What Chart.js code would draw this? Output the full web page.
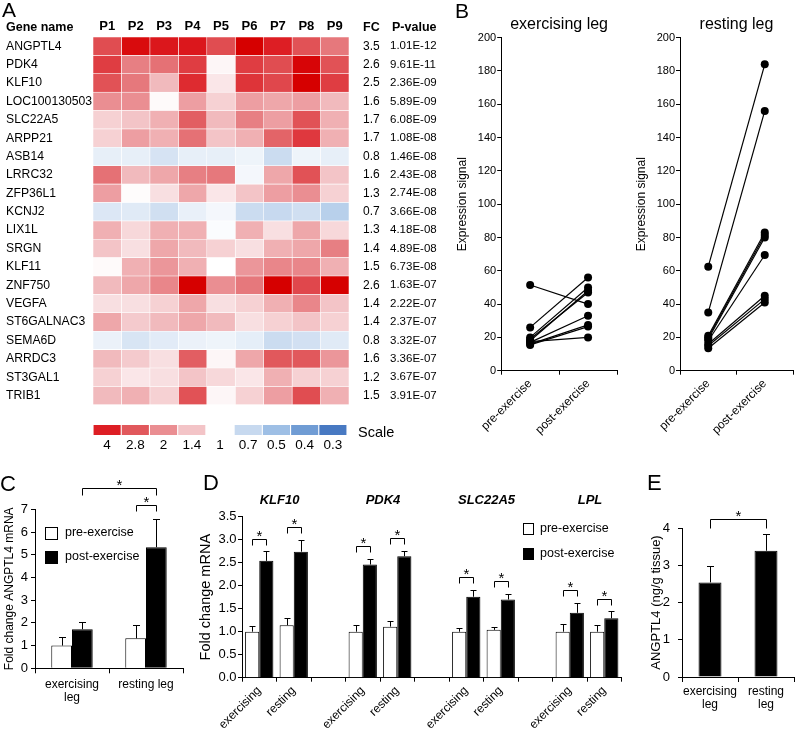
<!DOCTYPE html>
<html><head><meta charset="utf-8">
<script src="https://cdn.jsdelivr.net/npm/chart.js@4.4.1/dist/chart.umd.min.js"></script>
<style>
body{margin:0;background:#fff;}
#wrap{position:relative;width:797px;height:730px;overflow:hidden;background:#fff;font-family:"Liberation Sans",Arial,sans-serif;color:#000;}
canvas{position:absolute;}
.t{position:absolute;white-space:nowrap;}
.L{font-size:21px;line-height:21px;}
.H{font-size:12.5px;line-height:15px;font-weight:bold;}
</style></head><body><div id="wrap">
<canvas id="heat" width="445" height="426" style="left:0;top:0"></canvas>
<canvas id="scaleBar" width="400" height="40" style="left:0;top:418px"></canvas>
<canvas id="legEx" width="182" height="432" style="left:440px;top:8px"></canvas>
<canvas id="legRest" width="175" height="432" style="left:622px;top:8px"></canvas>
<canvas id="chartC" width="200" height="240" style="left:0;top:470px"></canvas>
<canvas id="chartD" width="440" height="260" style="left:190px;top:470px"></canvas>
<canvas id="chartE" width="167" height="260" style="left:630px;top:470px"></canvas>
<div class="t L" style="left:2px;top:-1px">A</div>
<div class="t L" style="left:455px;top:-0.5px">B</div>
<div class="t L" style="left:0px;top:473px;font-size:22px;line-height:22px">C</div>
<div class="t L" style="left:203px;top:472px;font-size:22px;line-height:22px">D</div>
<div class="t L" style="left:647px;top:472px;font-size:22px;line-height:22px">E</div>
<div class="t H" style="left:6px;top:19.5px">Gene name</div>
<div class="t H" style="left:363px;top:19.5px">FC</div>
<div class="t H" style="left:392px;top:19.5px">P-value</div>
<div class="t" style="left:358px;top:423.5px;font-size:14.5px;line-height:17px">Scale</div>
</div>
<script>
// ---------------- DATA ----------------
const patients = ['P1','P2','P3','P4','P5','P6','P7','P8','P9'];
const genes = ['ANGPTL4','PDK4','KLF10','LOC100130503','SLC22A5','ARPP21','ASB14','LRRC32','ZFP36L1','KCNJ2','LIX1L','SRGN','KLF11','ZNF750','VEGFA','ST6GALNAC3','SEMA6D','ARRDC3','ST3GAL1','TRIB1'];
const foldChange = ['3.5','2.6','2.5','1.6','1.7','1.7','0.8','1.6','1.3','0.7','1.3','1.4','1.5','2.6','1.4','1.4','0.8','1.6','1.2','1.5'];
const pValues = ['1.01E-12','9.61E-11','2.36E-09','5.89E-09','6.08E-09','1.08E-08','1.46E-08','2.43E-08','2.74E-08','3.66E-08','4.18E-08','4.89E-08','6.73E-08','1.63E-07','2.22E-07','2.37E-07','3.32E-07','3.36E-07','3.67E-07','3.91E-07'];
// per-gene fold change per patient (P1..P9)
const rANGPTL4    = [3.0, 4.6, 4.2, 4.2, 3.0, 5.0, 4.0, 2.9, 2.3];
const rPDK4       = [3.3, 2.2, 2.4, 3.3, 1.05, 3.3, 3.0, 4.8, 2.9];
const rKLF10      = [2.9, 2.3, 1.5, 3.7, 1.15, 3.5, 3.1, 5.0, 3.3];
const rLOC        = [2.0, 2.0, 1.03, 1.8, 1.3, 1.8, 1.7, 1.8, 1.5];
const rSLC22A5    = [1.3, 1.4, 1.6, 2.7, 1.5, 2.2, 1.8, 2.9, 1.6];
const rARPP21     = [1.3, 1.8, 1.6, 2.4, 1.4, 1.6, 2.6, 3.4, 1.6];
const rASB14      = [0.86, 0.86, 0.77, 0.86, 0.86, 0.9, 0.72, 0.9, 0.86];
const rLRRC32     = [2.4, 1.5, 1.7, 2.2, 2.3, 0.93, 1.7, 2.9, 1.4];
const rZFP36L1    = [1.8, 1.02, 1.2, 1.7, 1.15, 1.4, 1.8, 2.0, 1.3];
const rKCNJ2      = [0.8, 0.82, 0.74, 0.87, 0.93, 0.72, 0.7, 0.74, 0.62];
const rLIX1L      = [1.6, 1.25, 1.6, 1.6, 0.97, 1.6, 1.2, 1.7, 1.25];
const rSRGN       = [1.4, 1.2, 1.7, 1.5, 1.3, 1.2, 1.6, 1.7, 2.2];
const rKLF11      = [1.03, 1.6, 1.9, 1.6, 1.0, 1.9, 2.1, 2.1, 1.6];
const rZNF750     = [1.5, 1.7, 2.1, 5.0, 2.0, 2.3, 5.0, 3.1, 5.0];
const rVEGFA      = [1.2, 1.2, 1.3, 1.7, 1.2, 1.3, 1.6, 2.1, 1.4];
const rST6GALNAC3 = [1.7, 1.35, 1.5, 1.7, 1.5, 1.2, 1.3, 1.4, 1.3];
const rSEMA6D     = [0.88, 0.78, 0.83, 0.88, 0.9, 0.85, 0.72, 0.75, 0.82];
const rARRDC3     = [1.5, 1.35, 1.2, 2.7, 1.05, 1.7, 2.8, 2.8, 1.9];
const rST3GAL1    = [1.3, 1.15, 1.2, 1.4, 1.25, 1.15, 1.6, 1.3, 1.3];
const rTRIB1      = [1.5, 1.6, 1.3, 2.9, 1.05, 1.3, 1.8, 3.0, 1.6];
const heatRows = [rANGPTL4,rPDK4,rKLF10,rLOC,rSLC22A5,rARPP21,rASB14,rLRRC32,rZFP36L1,rKCNJ2,rLIX1L,rSRGN,rKLF11,rZNF750,rVEGFA,rST6GALNAC3,rSEMA6D,rARRDC3,rST3GAL1,rTRIB1];
const scaleValues = [4, 2.8, 2, 1.4, 1, 0.7, 0.5, 0.4, 0.3];
const scaleLabels = ['4','2.8','2','1.4','1','0.7','0.5','0.4','0.3'];

// Panel B
const legCats = ['pre-exercise','post-exercise'];
const exPre    = [51.5, 26, 20, 19, 18, 17, 16, 15.5, 17.5];
const exPost   = [40, 56, 50, 47, 48, 33, 27.5, 26.5, 20];
const restPre  = [62.5, 35, 21, 20, 19, 18, 16, 15, 13.5];
const restPost = [184, 156, 83, 81.5, 80, 69.5, 45, 43, 41];

// Panel C
const cCats = [['exercising','leg'], 'resting leg'];
const cPre = [1.0, 1.32];
const cPreSD = [0.38, 0.6];
const cPost = [1.72, 5.33];
const cPostSD = [0.32, 1.23];
const cSig = [{a:[1,0], b:[1,1]}, {a:[0,1], b:[1,1]}];

// Panel D
const dGenes = ['KLF10','PDK4','SLC22A5','LPL'];
const dCats = ['exercising','resting','','exercising','resting','','exercising','resting','','exercising','resting'];
const dPre    = [1.00, 1.14, null, 1.00, 1.11, null, 1.00, 1.04, null, 1.00, 1.00];
const dPreSD  = [0.12, 0.16, null, 0.14, 0.13, null, 0.09, 0.07, null, 0.16, 0.15];
const dPost   = [2.54, 2.74, null, 2.46, 2.64, null, 1.76, 1.70, null, 1.41, 1.29];
const dPostSD = [0.21, 0.26, null, 0.13, 0.12, null, 0.15, 0.12, null, 0.22, 0.16];
const dSigIdx = [0, 1, 3, 4, 6, 7, 9, 10];

// Panel E
const eCats = [['exercising','leg'], ['resting','leg']];
const eVals = [2.54, 3.39];
const eSD = [0.45, 0.44];
const eSig = [{a:[0,0], b:[0,1]}];

// ---------------- STYLE / HELPERS ----------------
const FONT = '"Liberation Sans", Arial, sans-serif';
Chart.defaults.font.family = FONT;
Chart.defaults.font.size = 12;
Chart.defaults.color = '#000';
Chart.defaults.animation = false;
Chart.defaults.responsive = false;
Chart.defaults.devicePixelRatio = 1;
Chart.defaults.plugins.legend.display = false;
Chart.defaults.plugins.tooltip.enabled = false;

const STOPS = [[5.0,[214,0,0]],[4.0,[221,30,36]],[2.8,[225,88,92]],[2.0,[234,142,146]],[1.4,[243,196,199]],[1.0,[255,255,255]],[0.7,[199,217,239]],[0.5,[158,191,229]],[0.4,[112,156,212]],[0.3,[72,121,194]]];
function heatColor(v){
  const c = (a)=>'rgb('+a.map(Math.round).join(',')+')';
  if (v >= STOPS[0][0]) return c(STOPS[0][1]);
  if (v <= STOPS[STOPS.length-1][0]) return c(STOPS[STOPS.length-1][1]);
  for (let i=0;i<STOPS.length-1;i++){
    const [a,ca] = STOPS[i], [b,cb] = STOPS[i+1];
    if (v <= a && v >= b){
      const t = (Math.log(a)-Math.log(v))/(Math.log(a)-Math.log(b));
      return c(ca.map((x,k)=>x+(cb[k]-x)*t));
    }
  }
  return '#fff';
}

const errorBars = {
  id:'errorBars',
  afterDatasetsDraw(chart, args, o){
    const ctx = chart.ctx, y = chart.scales.y, cap = (o && o.cap) || 7;
    chart.data.datasets.forEach((ds,di)=>{
      if (!ds.sd) return;
      const meta = chart.getDatasetMeta(di);
      meta.data.forEach((bar,i)=>{
        const v = ds.data[i], s = ds.sd[i];
        if (v == null || s == null) return;
        const top = Math.round(y.getPixelForValue(v+s)) + 0.5;
        const x = Math.round(bar.x) + 0.5;
        ctx.save(); ctx.strokeStyle = '#000'; ctx.lineWidth = 1;
        ctx.beginPath(); ctx.moveTo(x, bar.y); ctx.lineTo(x, top);
        ctx.moveTo(x - cap/2, top); ctx.lineTo(x + cap/2, top); ctx.stroke(); ctx.restore();
      });
    });
  }
};

const sigBrackets = {
  id:'sigBrackets',
  afterDatasetsDraw(chart, args, o){
    if (!o || !o.pairs) return;
    const ctx = chart.ctx, y = chart.scales.y;
    const n = o.pairs.length;
    for (let k=0;k<n;k++){
      const p = o.pairs[k];
      const ds1 = chart.data.datasets[p.a[0]], ds2 = chart.data.datasets[p.b[0]];
      const b1 = chart.getDatasetMeta(p.a[0]).data[p.a[1]], b2 = chart.getDatasetMeta(p.b[0]).data[p.b[1]];
      const t1 = y.getPixelForValue(ds1.data[p.a[1]] + (ds1.sd ? ds1.sd[p.a[1]] : 0));
      const t2 = y.getPixelForValue(ds2.data[p.b[1]] + (ds2.sd ? ds2.sd[p.b[1]] : 0));
      const gap = o.gaps ? o.gaps[k] : o.gap;
      const leg = o.legs ? o.legs[k] : o.leg;
      const by = Math.round(Math.min(t1,t2) - gap) + 0.5;
      const x1 = Math.round(b1.x) + 0.5, x2 = Math.round(b2.x) + 0.5;
      ctx.save(); ctx.strokeStyle = '#000'; ctx.lineWidth = 1;
      ctx.beginPath(); ctx.moveTo(x1, by+leg); ctx.lineTo(x1, by); ctx.lineTo(x2, by); ctx.lineTo(x2, by+leg); ctx.stroke();
      ctx.fillStyle = '#000'; ctx.font = (o.starSize||15)+'px '+FONT; ctx.textAlign = 'center'; ctx.textBaseline = 'alphabetic';
      ctx.fillText('*', (x1+x2)/2, by + (o.starDy||1.5));
      ctx.restore();
    }
  }
};

const boxLegend = {
  id:'boxLegend',
  afterDraw(chart, args, o){
    if (!o || o.x === undefined) return;
    const ctx = chart.ctx, ca = chart.chartArea;
    chart.data.datasets.forEach((ds,k)=>{
      const x = Math.round(ca.left + o.x), cy = ca.top + o.y + k*o.spacing;
      const yTop = Math.round(cy - o.boxH/2);
      ctx.save();
      ctx.fillStyle = ds.backgroundColor; ctx.fillRect(x, yTop, o.boxW, o.boxH);
      ctx.strokeStyle = '#000'; ctx.lineWidth = 1; ctx.strokeRect(x+0.5, yTop+0.5, o.boxW-1, o.boxH-1);
      ctx.fillStyle = '#000'; ctx.font = o.fontSize+'px '+FONT; ctx.textAlign = 'left'; ctx.textBaseline = 'middle';
      ctx.fillText(ds.label, x + o.boxW + o.textGap, cy);
      ctx.restore();
    });
  }
};

const groupTitles = {
  id:'groupTitles',
  afterDraw(chart, args, o){
    if (!o || !o.names) return;
    const ctx = chart.ctx, xs = chart.scales.x;
    ctx.save(); ctx.font = 'italic bold 13px '+FONT; ctx.textAlign = 'center'; ctx.textBaseline = 'middle'; ctx.fillStyle = '#000';
    o.names.forEach((name,g)=>{
      const x = (xs.getPixelForValue(g*o.every) + xs.getPixelForValue(g*o.every+1))/2 + (o.dx||0);
      ctx.fillText(name, x, chart.chartArea.top + o.dy);
    });
    ctx.restore();
  }
};

const axisBlack = {display:true, color:'#000', width:1};
function noGrid(){ return {display:false, drawTicks:false}; }

// ---------------- A: heatmap ----------------
new Chart(document.getElementById('heat'), {
  type:'bar',
  data:{
    labels: genes,
    datasets: patients.map((p,j)=>({
      label:p,
      data: genes.map(()=>1),
      backgroundColor: heatRows.map(r=>heatColor(r[j])),
      borderColor:'#fff', borderWidth:0.6, borderSkipped:false,
      barPercentage:1, categoryPercentage:1
    }))
  },
  options:{
    indexAxis:'y',
    layout:{padding:{left:6,right:0,top:0,bottom:11.5}},
    scales:{
      x:{stacked:true, min:0, max:9, display:false},
      y:{stacked:true, position:'left', grid:noGrid(), border:{display:false},
         ticks:{crossAlign:'far', font:{size:12.2}, padding:0, autoSkip:false},
         afterFit(s){ s.width = 87; }},
      pHead:{type:'category', axis:'x', labels:patients, position:'top', offset:true, grid:noGrid(), border:{display:false},
         ticks:{font:{size:13, weight:'bold'}, padding:2.5, autoSkip:false, maxRotation:0},
         afterFit(s){ s.height = 37; }},
      fc:{type:'category', axis:'y', labels:foldChange, position:'right', offset:true, grid:noGrid(), border:{display:false},
         ticks:{crossAlign:'near', font:{size:12}, padding:14, autoSkip:false},
         afterFit(s){ s.width = 32; }},
      pv:{type:'category', axis:'y', labels:pValues, position:'right', offset:true, grid:noGrid(), border:{display:false},
         ticks:{crossAlign:'near', font:{size:11.5}, padding:9, autoSkip:false},
         afterFit(s){ s.width = 64; }}
    }
  }
});

// scale bar
new Chart(document.getElementById('scaleBar'), {
  type:'bar',
  data:{labels: scaleLabels, datasets:[{data: scaleValues.map(()=>1), backgroundColor: scaleValues.map(heatColor), borderWidth:0, barPercentage:1, categoryPercentage:0.96}]},
  options:{
    layout:{padding:{left:93,right:53,top:7,bottom:0}},
    scales:{
      y:{display:false, min:0, max:1},
      x:{grid:noGrid(), border:{display:false}, ticks:{font:{size:13.5}, padding:2, autoSkip:false, maxRotation:0},
         afterFit(s){ s.height = 23; }}
    }
  }
});

// ---------------- B: paired lines ----------------
function legChart(id, title, pre, post, padLeft, padRight){
  new Chart(document.getElementById(id), {
    type:'line',
    data:{
      labels: legCats,
      datasets: pre.map((v,i)=>({
        data:[v, post[i]], borderColor:'#000', backgroundColor:'#000', borderWidth:1.2,
        pointRadius:4, pointBackgroundColor:'#000', pointBorderWidth:0, tension:0
      }))
    },
    options:{
      layout:{padding:{left:padLeft, right:padRight, top:7.4, bottom:0}},
      plugins:{title:{display:true, text:title, fullSize:false, color:'#000', font:{size:16, weight:'normal'}, padding:{top:0,bottom:3.1}}},
      scales:{
        x:{type:'category', offset:true,
           grid:{display:true, offset:true, drawOnChartArea:false, drawTicks:true, tickLength:4, color:'#000'},
           border:axisBlack,
           ticks:{minRotation:45, maxRotation:45, font:{size:12}, padding:2, autoSkip:false},
           afterFit(s){ s.height = 69.3; }},
        y:{min:0, max:200,
           ticks:{stepSize:20, font:{size:11}, padding:1},
           grid:{display:true, drawOnChartArea:false, drawTicks:true, tickLength:4, color:'#000'},
           border:axisBlack,
           title:{display:true, text:'Expression signal', font:{size:12}, padding:{top:1,bottom:0}},
           afterFit(s){ s.width = 46.4; }}
      }
    }
  });
}
legChart('legEx', 'exercising leg', exPre, exPost, 14.8, 5);
legChart('legRest', 'resting leg', restPre, restPost, 11.6, 1);

// ---------------- C ----------------
new Chart(document.getElementById('chartC'), {
  type:'bar',
  data:{labels:cCats, datasets:[
    {label:'pre-exercise', data:cPre, sd:cPreSD, backgroundColor:'#fff', borderColor:'#000', borderWidth:1},
    {label:'post-exercise', data:cPost, sd:cPostSD, backgroundColor:'#000', borderColor:'#000', borderWidth:1}
  ]},
  options:{
    datasets:{bar:{categoryPercentage:0.56, barPercentage:1}},
    layout:{padding:{left:0,right:17,top:39.3,bottom:0}},
    scales:{
      x:{grid:{display:true, offset:true, drawOnChartArea:false, drawTicks:true, tickLength:5, color:'#000'}, border:axisBlack,
         ticks:{font:{size:12, lineHeight:1.05}, padding:5.4, autoSkip:false, maxRotation:0},
         afterFit(s){ s.height = 41.7; }},
      y:{min:0, max:7, ticks:{stepSize:1, font:{size:13}, padding:3},
         grid:{display:true, drawOnChartArea:false, drawTicks:true, tickLength:4, color:'#000'}, border:axisBlack,
         title:{display:true, text:'Fold change ANGPTL4 mRNA', font:{size:12}, padding:{top:2.8,bottom:0}},
         afterFit(s){ s.width = 35; }}
    },
    plugins:{
      errorBars:{cap:7},
      sigBrackets:{pairs:cSig, gaps:[31,14], legs:[7,6], starSize:15, starDy:1.5},
      boxLegend:{x:10, y:23.7, spacing:24, boxW:13, boxH:13, textGap:7, fontSize:12.5}
    }
  },
  plugins:[errorBars, sigBrackets, boxLegend]
});

// ---------------- D ----------------
new Chart(document.getElementById('chartD'), {
  type:'bar',
  data:{labels:dCats, datasets:[
    {label:'pre-exercise', data:dPre, sd:dPreSD, backgroundColor:'#fff', borderColor:'#000', borderWidth:1},
    {label:'post-exercise', data:dPost, sd:dPostSD, backgroundColor:'#000', borderColor:'#000', borderWidth:1}
  ]},
  options:{
    datasets:{bar:{categoryPercentage:0.82, barPercentage:1}},
    layout:{padding:{left:7.3,right:8.5,top:46.7,bottom:0}},
    scales:{
      x:{grid:{display:true, offset:true, drawOnChartArea:false, drawTicks:true, tickLength:4, color:'#000'}, border:axisBlack,
         ticks:{minRotation:45, maxRotation:45, font:{size:12}, padding:2, autoSkip:false},
         afterFit(s){ s.height = 52.3; }},
      y:{min:0, max:3.5, ticks:{stepSize:0.5, font:{size:13}, padding:1.5, callback:(v)=>Number(v).toFixed(1)},
         grid:{display:true, drawOnChartArea:false, drawTicks:true, tickLength:4, color:'#000'}, border:axisBlack,
         title:{display:true, text:'Fold change mRNA', font:{size:14.5}, padding:{top:0,bottom:0}},
         afterFit(s){ s.width = 44.7; }}
    },
    plugins:{
      errorBars:{cap:6},
      sigBrackets:{pairs:dSigIdx.map(i=>({a:[0,i], b:[1,i]})), gap:12.5, leg:6, starSize:15, starDy:1.5},
      boxLegend:{x:281, y:12.3, spacing:25, boxW:11, boxH:12, textGap:6, fontSize:12.5},
      groupTitles:{names:dGenes, every:3, dy:-16.7, dx:3}
    }
  },
  plugins:[errorBars, sigBrackets, boxLegend, groupTitles]
});

// ---------------- E ----------------
new Chart(document.getElementById('chartE'), {
  type:'bar',
  data:{labels:eCats, datasets:[
    {label:'ANGPTL4', data:eVals, sd:eSD, backgroundColor:'#000', borderColor:'#000', borderWidth:1}
  ]},
  options:{
    datasets:{bar:{categoryPercentage:1, barPercentage:0.41}},
    layout:{padding:{left:18.2,right:3,top:58,bottom:0}},
    scales:{
      x:{grid:{display:true, offset:true, drawOnChartArea:false, drawTicks:true, tickLength:5, color:'#000'}, border:axisBlack,
         ticks:{font:{size:12, lineHeight:1.08}, padding:3.5, autoSkip:false, maxRotation:0},
         afterFit(s){ s.height = 53; }},
      y:{min:0, max:4, ticks:{stepSize:1, font:{size:13}, padding:8},
         grid:{display:true, drawOnChartArea:false, drawTicks:true, tickLength:4, color:'#000'}, border:axisBlack,
         title:{display:true, text:'ANGPTL4 (ng/g tissue)', font:{size:13}, padding:{top:0,bottom:0}},
         afterFit(s){ s.width = 33.8; }}
    },
    plugins:{
      errorBars:{cap:7},
      sigBrackets:{pairs:eSig, gap:15.5, leg:9, starSize:15, starDy:1.5}
    }
  },
  plugins:[errorBars, sigBrackets]
});
</script>
</body></html>
